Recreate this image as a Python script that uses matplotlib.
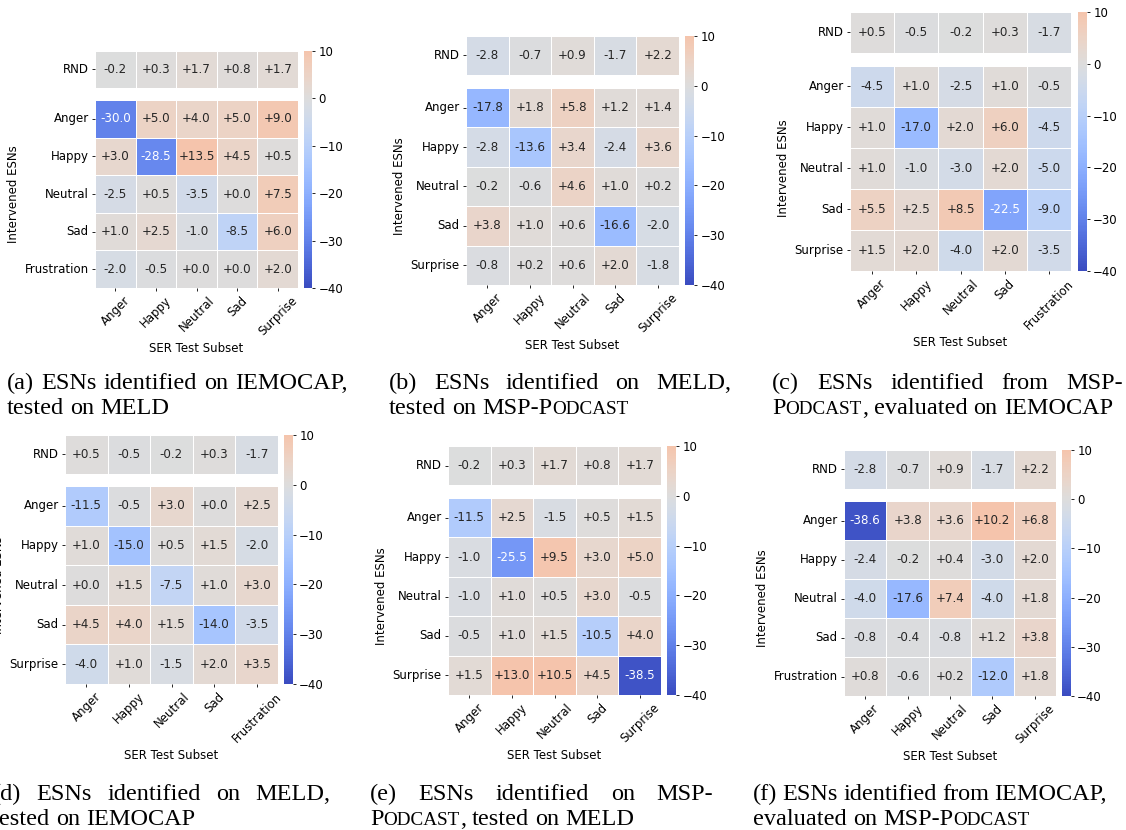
import matplotlib
matplotlib.use("Agg")
import matplotlib.pyplot as plt
import numpy as np
import seaborn as sns

W, H = 1126, 830
plt.rcParams["font.size"] = 8.5

cols_surp = ["Anger", "Happy", "Neutral", "Sad", "Surprise"]
cols_frus = ["Anger", "Happy", "Neutral", "Sad", "Frustration"]
rows_frus = ["Anger", "Happy", "Neutral", "Sad", "Frustration"]
rows_surp = ["Anger", "Happy", "Neutral", "Sad", "Surprise"]

# (a) IEMOCAP -> MELD
a_rnd = [-0.2, 0.3, 1.7, 0.8, 1.7]
a_vals = [[-30.0, 5.0, 4.0, 5.0, 9.0],
          [3.0, -28.5, 13.5, 4.5, 0.5],
          [-2.5, 0.5, -3.5, 0.0, 7.5],
          [1.0, 2.5, -1.0, -8.5, 6.0],
          [-2.0, -0.5, 0.0, 0.0, 2.0]]

# (b) MELD -> MSP-Podcast
b_rnd = [-2.8, -0.7, 0.9, -1.7, 2.2]
b_vals = [[-17.8, 1.8, 5.8, 1.2, 1.4],
          [-2.8, -13.6, 3.4, -2.4, 3.6],
          [-0.2, -0.6, 4.6, 1.0, 0.2],
          [3.8, 1.0, 0.6, -16.6, -2.0],
          [-0.8, 0.2, 0.6, 2.0, -1.8]]

# (c) MSP-Podcast -> IEMOCAP
c_rnd = [0.5, -0.5, -0.2, 0.3, -1.7]
c_vals = [[-4.5, 1.0, -2.5, 1.0, -0.5],
          [1.0, -17.0, 2.0, 6.0, -4.5],
          [1.0, -1.0, -3.0, 2.0, -5.0],
          [5.5, 2.5, 8.5, -22.5, -9.0],
          [1.5, 2.0, -4.0, 2.0, -3.5]]

# (d) MELD -> IEMOCAP
d_rnd = [0.5, -0.5, -0.2, 0.3, -1.7]
d_vals = [[-11.5, -0.5, 3.0, 0.0, 2.5],
          [1.0, -15.0, 0.5, 1.5, -2.0],
          [0.0, 1.5, -7.5, 1.0, 3.0],
          [4.5, 4.0, 1.5, -14.0, -3.5],
          [-4.0, 1.0, -1.5, 2.0, 3.5]]

# (e) MSP-Podcast -> MELD
e_rnd = [-0.2, 0.3, 1.7, 0.8, 1.7]
e_vals = [[-11.5, 2.5, -1.5, 0.5, 1.5],
          [-1.0, -25.5, 9.5, 3.0, 5.0],
          [-1.0, 1.0, 0.5, 3.0, -0.5],
          [-0.5, 1.0, 1.5, -10.5, 4.0],
          [1.5, 13.0, 10.5, 4.5, -38.5]]

# (f) IEMOCAP -> MSP-Podcast
f_rnd = [-2.8, -0.7, 0.9, -1.7, 2.2]
f_vals = [[-38.6, 3.8, 3.6, 10.2, 6.8],
          [-2.4, -0.2, 0.4, -3.0, 2.0],
          [-4.0, -17.6, 7.4, -4.0, 1.8],
          [-0.8, -0.4, -0.8, 1.2, 3.8],
          [0.8, -0.6, 0.2, -12.0, 1.8]]

captions = {
    "a": ["(a) ESNs identified on IEMOCAP,", "tested on MELD"],
    "b": ["(b) ESNs identified on MELD,", "tested on MSP-PODCAST"],
    "c": ["(c) ESNs identified from MSP-", "PODCAST, evaluated on IEMOCAP"],
    "d": ["(d) ESNs identified on MELD,", "tested on IEMOCAP"],
    "e": ["(e) ESNs identified on MSP-", "PODCAST, tested on MELD"],
    "f": ["(f) ESNs identified from IEMOCAP,", "evaluated on MSP-PODCAST"],
}

# layout in pixels: heat left, heat right, rnd top, rnd bottom, main top, main bottom, cbar x0, cbar x1
panels = [
    ("a", a_rnd, a_vals, rows_frus, cols_surp, (95, 298, 51, 88, 100, 288, 304, 312), (7, 348, 389)),
    ("b", b_rnd, b_vals, rows_surp, cols_surp, (466, 679, 36, 75, 88, 285, 685, 694), (389, 731, 389)),
    ("c", c_rnd, c_vals, rows_surp, cols_frus, (850, 1071, 12, 53, 66, 271, 1078, 1087), (772, 1123, 389)),
    ("d", d_rnd, d_vals, rows_surp, cols_frus, (65, 278, 435, 474, 486, 684, 284, 293), (-7, 330, 800)),
    ("e", e_rnd, e_vals, rows_surp, cols_surp, (448, 661, 446, 485, 498, 695, 667, 676), (370, 713, 800)),
    ("f", f_rnd, f_vals, rows_frus, cols_surp, (844, 1056, 450, 489, 501, 696, 1062, 1071), (753, 1107, 800)),
]

fig = plt.figure(figsize=(W / 100, H / 100), dpi=100)


def fmt(arr):
    return np.vectorize(lambda v: f"{v:+.1f}")(arr)


def draw_panel(rnd, vals, rows, cols, g):
    hl, hr, rt, rb, mt, mb, c0, c1 = g
    ax_r = fig.add_axes([hl / W, 1 - rb / H, (hr - hl) / W, (rb - rt) / H])
    ax_m = fig.add_axes([hl / W, 1 - mb / H, (hr - hl) / W, (mb - mt) / H])
    cax = fig.add_axes([c0 / W, 1 - mb / H, (c1 - c0) / W, (mb - rt) / H])
    kw = dict(cmap="coolwarm", center=0, vmin=-40, vmax=10, linewidths=0.5,
              linecolor="white", fmt="", annot_kws={"size": 8.6})
    r = np.array([rnd])
    m = np.array(vals)
    sns.heatmap(r, ax=ax_r, annot=fmt(r), cbar=False, xticklabels=False,
                yticklabels=["RND"], **kw)
    sns.heatmap(m, ax=ax_m, annot=fmt(m), cbar_ax=cax, xticklabels=cols,
                yticklabels=rows, **kw)
    ax_r.set_yticklabels(["RND"], rotation=0)
    ax_m.set_yticklabels(rows, rotation=0)
    ax_m.set_xticklabels(cols, rotation=45)
    ax_m.set_ylabel("Intervened ESNs", labelpad=3)
    ax_m.set_xlabel("SER Test Subset", labelpad=3)
    cax.set_yticks([10, 0, -10, -20, -30, -40])
    for a in (ax_r, ax_m, cax):
        a.tick_params(length=2.5, width=0.6, pad=2)


BIG, SMALL = 17.5, 13.8
SERIF = "Liberation Serif"
renderer = fig.canvas.get_renderer()


def segments(word):
    if "PODCAST" in word:
        i = word.index("PODCAST")
        segs = [(word[:i + 1], BIG), ("ODCAST", SMALL), (word[i + 7:], BIG)]
        return [s for s in segs if s[0]]
    return [(word, BIG)]


def text_width(s, size):
    t = fig.text(0, 0, s, fontsize=size, family=SERIF)
    w = t.get_window_extent(renderer).width
    t.remove()
    return w


def draw_line(line, x0, x1, y, justify):
    words = [segments(w) for w in line.split()]
    widths = [[text_width(s, sz) for s, sz in w] for w in words]
    total = sum(sum(w) for w in widths)
    if justify and len(words) > 1:
        gap = (x1 - x0 - total) / (len(words) - 1)
    else:
        gap = 0.25 * BIG * 100 / 72
    x = x0
    for segs, ws in zip(words, widths):
        for (s, sz), w in zip(segs, ws):
            fig.text(x / W, 1 - y / H, s, fontsize=sz, family=SERIF,
                     ha="left", va="baseline")
            x += w
        x += gap


for key, rnd, vals, rows, cols, g, (x0, x1, yb) in panels:
    draw_panel(rnd, vals, rows, cols, g)
    l1, l2 = captions[key]
    draw_line(l1, x0, x1, yb, True)
    draw_line(l2, x0, x1, yb + 24.5, False)

fig.savefig("out.png", dpi=100)
